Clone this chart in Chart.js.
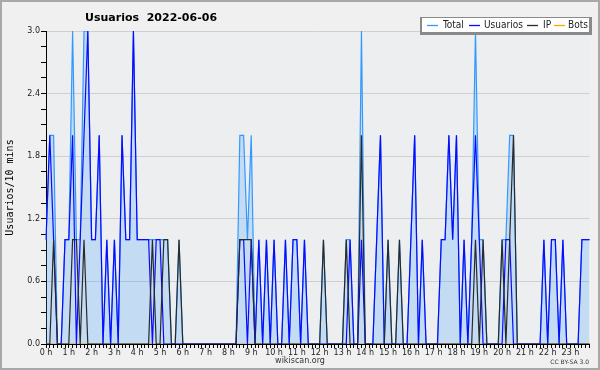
<!DOCTYPE html>
<html><head><meta charset="utf-8">
<script src="https://cdn.jsdelivr.net/npm/chart.js@4"></script>
<style>html,body{margin:0;padding:0;background:#f0f0f0;}canvas{display:block;}</style>
</head><body>
<canvas id="c" width="600" height="370"></canvas>
<script>
// 10-minute slots, 144 per day
const hourLabels = ['0 h','1 h','2 h','3 h','4 h','5 h','6 h','7 h','8 h','9 h','10 h','11 h',
  '12 h','13 h','14 h','15 h','16 h','17 h','18 h','19 h','20 h','21 h','22 h','23 h'];
const yTickValues = [0.0, 0.6, 1.2, 1.8, 2.4, 3.0];

const total = [
  1,2,2,0,0,1,1,3,1,1,3,3,
  1,1,2,0,1,0,1,0,2,1,1,3,
  1,1,1,1,1,1,1,1,1,0,0,1,
  0,0,0,0,0,0,0,0,0,0,0,0,
  0,0,0,2,2,1,2,0,1,0,1,0,
  1,0,0,1,0,1,1,0,1,0,0,0,
  0,1,0,0,0,0,0,1,1,0,0,3,
  0,0,0,1,2,0,1,0,0,1,0,0,
  1,2,0,1,0,0,0,0,1,1,2,1,
  2,0,1,0,1,3,1,1,0,0,0,0,
  1,1,2,2,0,0,0,0,0,0,0,1,
  0,1,1,0,1,0,0,0,0,1,1,1];
const usuarios = [
  1,2,1,0,0,1,1,2,0,1,2,3,
  1,1,2,0,1,0,1,0,2,1,1,3,
  1,1,1,1,0,1,1,0,0,0,0,0,
  0,0,0,0,0,0,0,0,0,0,0,0,
  0,0,0,1,1,0,1,0,1,0,1,0,
  1,0,0,1,0,1,1,0,1,0,0,0,
  0,0,0,0,0,0,0,0,1,0,0,1,
  0,0,0,1,2,0,0,0,0,0,0,0,
  1,2,0,1,0,0,0,0,1,1,2,1,
  2,0,1,0,1,2,1,0,0,0,0,0,
  0,1,1,0,0,0,0,0,0,0,0,1,
  0,1,1,0,1,0,0,0,0,1,1,1];
const ip = [
  0,0,1,0,0,0,0,1,1,0,1,0,
  0,0,0,0,0,0,0,0,0,0,0,0,
  0,0,0,0,1,0,0,1,1,0,0,1,
  0,0,0,0,0,0,0,0,0,0,0,0,
  0,0,0,1,1,1,1,0,0,0,0,0,
  0,0,0,0,0,0,0,0,0,0,0,0,
  0,1,0,0,0,0,0,1,0,0,0,2,
  0,0,0,0,0,0,1,0,0,1,0,0,
  0,0,0,0,0,0,0,0,0,0,0,0,
  0,0,0,0,0,1,0,1,0,0,0,0,
  1,0,1,2,0,0,0,0,0,0,0,0,
  0,0,0,0,0,0,0,0,0,0,0,0];
const bots = [
  0,0,0,0,0,0,0,0,0,0,0,0,
  0,0,0,0,0,0,0,0,0,0,0,0,
  0,0,0,0,0,0,0,0,0,0,0,0,
  0,0,0,0,0,0,0,0,0,0,0,0,
  0,0,0,0,0,0,0,0,0,0,0,0,
  0,0,0,0,0,0,0,0,0,0,0,0,
  0,0,0,0,0,0,0,0,0,0,0,0,
  0,0,0,0,0,0,0,0,0,0,0,0,
  0,0,0,0,0,0,0,0,0,0,0,0,
  0,0,0,0,0,0,0,0,0,0,0,0,
  0,0,0,0,0,0,0,0,0,0,0,0,
  0,0,0,0,0,0,0,0,0,0,0,0];

const slotLabels = total.map((_, i) => (i % 6 === 0 ? hourLabels[i / 6] : ''));
const isMajor = v => yTickValues.some(t => Math.abs(t - v) < 1e-6);

// legend item anchors (line start, text start)
const legendLineX = [427, 469, 527, 554];
const legendTextX = [443, 484, 543, 568];

const decor = {
  id: 'decor',
  beforeDraw(chart) {
    const ctx = chart.ctx, a = chart.chartArea;
    ctx.save();
    ctx.fillStyle = '#f0f0f0';
    ctx.fillRect(0, 0, chart.width, chart.height);
    ctx.fillStyle = '#eceef0';
    ctx.fillRect(a.left, a.top, a.right - a.left, a.bottom - a.top);
    ctx.restore();
  },
  afterDraw(chart) {
    const ctx = chart.ctx;
    ctx.save();
    // outer border
    ctx.strokeStyle = '#a8a8a8';
    ctx.lineWidth = 2;
    ctx.strokeRect(1, 1, chart.width - 2, chart.height - 2);
    // title
    ctx.fillStyle = '#000';
    ctx.font = 'bold 11px "DejaVu Sans"';
    ctx.textBaseline = 'alphabetic';
    ctx.textAlign = 'left';
    ctx.fillText('Usuarios  2022-06-06', 85, 21);
    // legend box
    ctx.fillStyle = '#8a8a8a';
    ctx.fillRect(420, 17, 172, 18);
    ctx.fillStyle = '#fff';
    ctx.fillRect(422, 18, 167, 14);
    ctx.font = '10px "DejaVu Sans Condensed", "DejaVu Sans", sans-serif';
    ctx.textBaseline = 'middle';
    const y = 25;
    chart.data.datasets.forEach((ds, k) => {
      ctx.strokeStyle = ds.borderColor;
      ctx.lineWidth = 1.3;
      ctx.beginPath();
      ctx.moveTo(legendLineX[k], y + 0.5);
      ctx.lineTo(legendLineX[k] + 11, y + 0.5);
      ctx.stroke();
      ctx.fillStyle = '#222';
      ctx.fillText(ds.label, legendTextX[k], y + 0.5);
    });
    // credits
    ctx.fillStyle = '#333';
    ctx.font = '8px "DejaVu Sans"';
    ctx.textAlign = 'center';
    ctx.fillText('wikiscan.org', 300, 361);
    ctx.font = '6px "DejaVu Sans"';
    ctx.textAlign = 'right';
    ctx.fillText('CC BY-SA 3.0', 589, 362);
    ctx.restore();
  }
};

new Chart(document.getElementById('c'), {
  type: 'line',
  data: {
    labels: slotLabels,
    datasets: [
      { label: 'Total', data: total, borderColor: '#3399ff', backgroundColor: 'rgba(51,153,255,0.22)',
        fill: 'origin', borderWidth: 1.2, pointRadius: 0, tension: 0, order: 4 },
      { label: 'Usuarios', data: usuarios, borderColor: '#0a0aff', fill: false,
        borderWidth: 1.2, pointRadius: 0, tension: 0, order: 3 },
      { label: 'IP', data: ip, borderColor: '#2a2a2a', fill: false,
        borderWidth: 1.2, pointRadius: 0, tension: 0, order: 2 },
      { label: 'Bots', data: bots, borderColor: '#ffa500', fill: false,
        borderWidth: 1.2, pointRadius: 0, tension: 0, order: 5 }
    ]
  },
  options: {
    responsive: false,
    animation: false,
    events: [],
    layout: { padding: { top: 31, right: 10.5, left: 0, bottom: 0 } },
    plugins: { legend: { display: false }, tooltip: { enabled: false }, title: { display: false } },
    scales: {
      x: {
        type: 'category',
        offset: false,
        z: 1,
        afterFit: s => { s.height = 26; },
        border: { display: true, color: '#000', width: 1 },
        grid: { display: true, drawOnChartArea: false, drawTicks: true, tickLength: 4, tickColor: '#000' },
        ticks: { autoSkip: false, maxRotation: 0, minRotation: 0, padding: 0,
          color: '#222', font: { family: 'DejaVu Sans', size: 8 } }
      },
      y: {
        min: 0, max: 3,
        afterFit: s => { s.width = 46; },
        border: { display: true, color: '#000', width: 1 },
        grid: { color: c => (isMajor(c.tick.value) ? '#cfcfcf' : 'rgba(0,0,0,0)'),
          tickColor: '#000', tickLength: 5, drawTicks: true },
        ticks: { stepSize: 0.15, autoSkip: false, padding: 1, color: '#222',
          font: { family: 'DejaVu Sans', size: 8 },
          callback: v => (isMajor(v) ? Number(v).toFixed(1) : '') },
        title: { display: true, text: 'Usuarios/10 mins', color: '#000',
          font: { family: 'DejaVu Sans Mono', size: 10 }, padding: { top: 4, bottom: 4 } }
      }
    }
  },
  plugins: [decor]
});
</script>
</body></html>
